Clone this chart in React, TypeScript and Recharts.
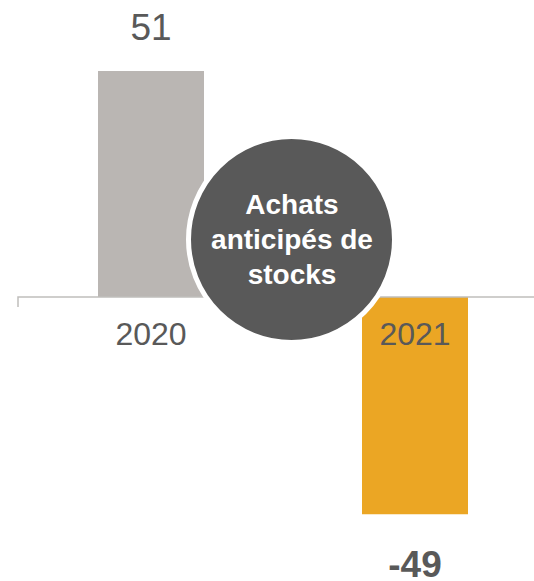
import React from 'react';
import { BarChart, Bar, XAxis, YAxis, Cell, LabelList, ReferenceLine } from 'recharts';

const years = ['2020', '2021'];
const values = [51, -49];
const barColors = ['#bab6b3', '#eba624'];
const bubbleLines = ['Achats', 'anticipés de', 'stocks'];

const data = years.map((year, i) => ({ year, value: values[i] }));

const textColor = '#595959';

function ValueLabel(props: any) {
  const { x, y, width, height, value } = props;
  const top = Math.min(Number(y), Number(y) + Number(height));
  const bottom = Math.max(Number(y), Number(y) + Number(height));
  const cx = Number(x) + Number(width) / 2;
  if (value >= 0) {
    return (
      <text x={cx} y={top - 31} textAnchor="middle" fontSize={37} fill={textColor}>
        {value}
      </text>
    );
  }
  return (
    <text x={cx} y={bottom + 63} textAnchor="middle" fontSize={37} fontWeight="bold" fill={textColor}>
      {value}
    </text>
  );
}

function YearLabel(props: any) {
  const { x, y, width, height, index } = props;
  const top = Math.min(Number(y), Number(y) + Number(height));
  const bottom = Math.max(Number(y), Number(y) + Number(height));
  const zero = values[index] >= 0 ? bottom : top;
  return (
    <text x={Number(x) + Number(width) / 2} y={zero + 48} textAnchor="middle" fontSize={32} fill={textColor}>
      {years[index]}
    </text>
  );
}

// axis line at zero with the small tick on its left end
function ZeroLine(props: any) {
  const { x1, y1, x2, y2 } = props;
  if (x1 == null) return null;
  return (
    <path
      d={`M${x1 - 1},${y1 + 10} L${x1 - 1},${y1} L${x2},${y2}`}
      stroke="#c0bebc"
      strokeWidth={1.5}
      fill="none"
    />
  );
}

export default function App() {
  return (
    <div
      style={{
        position: 'absolute',
        left: 0,
        top: 0,
        width: 534,
        height: 581,
        overflow: 'hidden',
        background: '#fff',
        fontFamily: '"Liberation Sans", Arial, sans-serif',
      }}
    >
      <BarChart width={548} height={581} data={data} margin={{ top: 31, right: 1, left: 19, bottom: 18 }}>
        <XAxis dataKey="year" hide />
        <YAxis hide domain={[-60, 60]} />
        <Bar dataKey="value" barSize={106} isAnimationActive={false}>
          {data.map((d, i) => (
            <Cell key={d.year} fill={barColors[i]} />
          ))}
          <LabelList dataKey="value" content={ValueLabel} />
          <LabelList dataKey="year" content={YearLabel} />
        </Bar>
        <ReferenceLine y={0} shape={ZeroLine} />
      </BarChart>
      <svg width={534} height={581} style={{ position: 'absolute', left: 0, top: 0, pointerEvents: 'none' }}>
        <circle cx={291.5} cy={239.5} r={103} fill="#595959" stroke="#fff" strokeWidth={5} />
        {bubbleLines.map((line, i) => (
          <text
            key={line}
            x={292}
            y={214 + i * 35}
            textAnchor="middle"
            fontSize={28}
            fontWeight="bold"
            fill="#fff"
            fontFamily='"Liberation Sans", Arial, sans-serif'
          >
            {line}
          </text>
        ))}
      </svg>
    </div>
  );
}
